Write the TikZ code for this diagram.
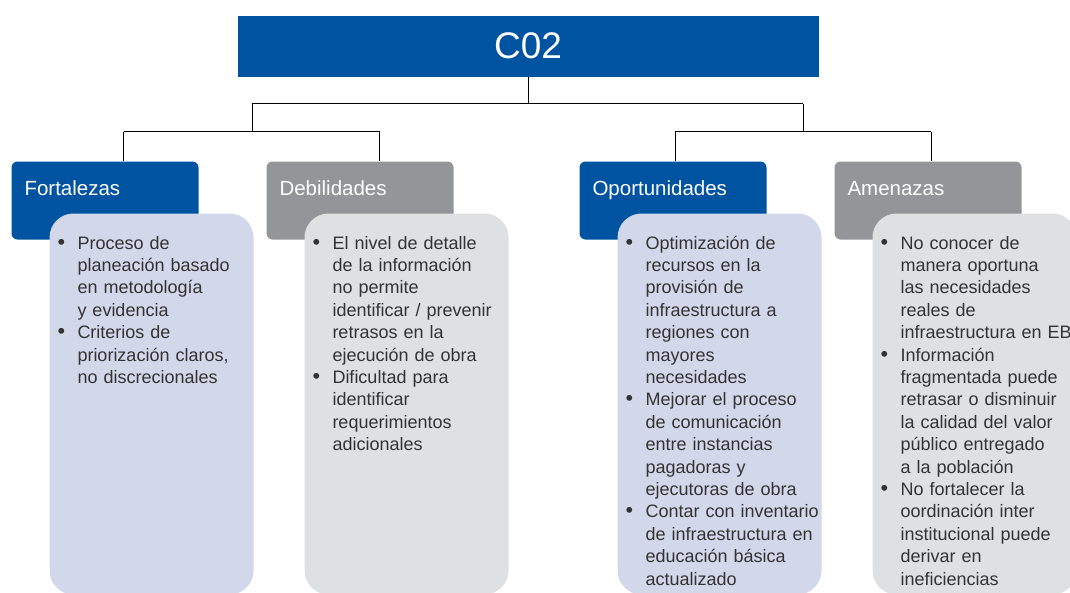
\documentclass[tikz,border=0pt]{standalone}
\usepackage{fontspec}
\setmainfont{Liberation Sans}
\usetikzlibrary{positioning}
\definecolor{foblue}{HTML}{0053A0}
\definecolor{fogray}{HTML}{939598}
\definecolor{lavender}{HTML}{D3D7EA}
\definecolor{palegray}{HTML}{DFE0E1}
\definecolor{bodytext}{HTML}{333333}
\newcommand{\bul}{\makebox[18pt][l]{\hspace*{-2pt}\scalebox{1.2}{\textbullet}}}
\newcommand{\ind}{\hspace*{18pt}}
\tikzset{every picture/.style={line width=1pt}}
\tikzset{
  titlebox/.style={fill=foblue, text=white, anchor=north west, inner sep=0pt,
    minimum width=581pt, minimum height=61pt, font=\fontsize{37}{40}\selectfont},
  head/.style={rounded corners=6pt, text=white, anchor=north west, align=left,
    inner xsep=13pt, inner ysep=0pt, text width=161pt, text height=34pt,
    text depth=44pt, font=\fontsize{20.5}{24}\selectfont},
  panel/.style={rounded corners=24pt, anchor=north west, inner sep=0pt,
    minimum width=204pt, minimum height=381pt},
  items/.style={anchor=base west, inner sep=0pt, align=left, text width=200pt,
    text=bodytext, font=\fontsize{18}{22.4}\selectfont}
}

\begin{document}
\begin{tikzpicture}[x=1pt, y=-1pt]
\useasboundingbox (0,0) rectangle (1070,592);
\clip (0,0) rectangle (1070,592);
% title
\node[titlebox] (title) at (237,15) {C02};
% tree
\coordinate (busL) at (252,103.5);
\coordinate (busR) at (803,103.5);
\coordinate (fd1) at (123.5,131.5);
\coordinate (fd2) at (379.5,131.5);
\coordinate (oa1) at (675,131.5);
\coordinate (oa2) at (931,131.5);
% headers
\node[head, fill=foblue] (hF) at (11,161) {Fortalezas};
\node[head, fill=fogray] (hD) at (266,161) {Debilidades};
\node[head, fill=foblue] (hO) at (579,161) {Oportunidades};
\node[head, fill=fogray] (hA) at (834,161) {Amenazas};
\draw (title.south) -- (title.south |- busL);
\draw (busL) -- (busR);
\draw (busL) -- (busL |- fd1);
\draw (busR) -- (busR |- oa1);
\draw (fd1) -- (fd2);
\draw (oa1) -- (oa2);
\draw (fd1) -- (fd1 |- hF.north);
\draw (fd2) -- (fd2 |- hD.north);
\draw (oa1) -- (oa1 |- hO.north);
\draw (oa2) -- (oa2 |- hA.north);
% panels
\node[panel, fill=lavender] (pF) at (49,213) {};
\node[panel, fill=palegray] (pD) at (304,213) {};
\node[panel, fill=lavender] (pO) at (617,213) {};
\node[panel, fill=palegray] (pA) at (872,213) {};
\node[items] (tF) at (59,249) {\bul Proceso de\\ \ind planeación basado\\ \ind en metodología\\
  \ind y evidencia\\ \bul Criterios de\\ \ind priorización claros,\\ \ind no discrecionales};
\node[items] (tD) at (314,249) {\bul El nivel de detalle\\ \ind de la información\\ \ind no permite\\
  \ind identificar / prevenir\\ \ind retrasos en la\\ \ind ejecución de obra\\
  \bul Dificultad para\\ \ind identificar\\ \ind requerimientos\\ \ind adicionales};
\node[items] (tO) at (627,249) {\bul Optimización de\\ \ind recursos en la\\ \ind provisión de\\
  \ind infraestructura a\\ \ind regiones con\\ \ind mayores\\ \ind necesidades\\
  \bul Mejorar el proceso\\ \ind de comunicación\\ \ind entre instancias\\ \ind pagadoras y\\
  \ind ejecutoras de obra\\ \bul Contar con inventario\\ \ind de infraestructura en\\
  \ind educación básica\\ \ind actualizado};
\node[items] (tA) at (882,249) {\bul No conocer de\\ \ind manera oportuna\\ \ind las necesidades\\
  \ind reales de\\ \ind infraestructura en EB\\ \bul Información\\ \ind fragmentada puede\\
  \ind retrasar o disminuir\\ \ind la calidad del valor\\ \ind público entregado\\
  \ind a la población\\ \bul No fortalecer la\\ \ind oordinación inter\\
  \ind institucional puede\\ \ind derivar en\\ \ind ineficiencias};
\end{tikzpicture}
\end{document}
